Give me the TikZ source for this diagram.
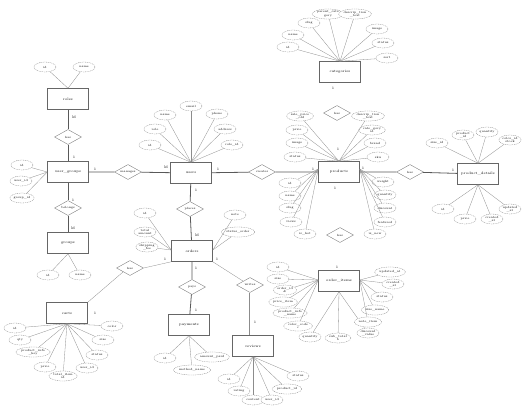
\documentclass[tikz,border=0pt]{standalone}
\usetikzlibrary{shapes.geometric}
\begin{document}
\begin{tikzpicture}[x=1pt,y=-1pt,
  ent/.style={draw=gray!80!black, line width=0.5pt, fill=white, minimum width=41pt, minimum height=21pt, inner sep=1pt, font=\fontsize{3.5}{4}\selectfont},
  attr/.style={ellipse, draw=gray, dash pattern=on 1pt off 0.8pt, line width=0.3pt, fill=white, minimum width=22pt, minimum height=10pt, inner sep=0.3pt, font=\fontsize{3}{3.4}\selectfont, align=center},
  rel/.style={diamond, aspect=1.8, draw=gray, line width=0.4pt, fill=white, minimum width=27pt, minimum height=15pt, inner sep=0pt, font=\fontsize{3}{3.4}\selectfont},
  link/.style={draw=gray!90, line width=0.3pt},
  strong/.style={draw=gray!70!black, line width=0.8pt},
  card/.style={font=\fontsize{3.5}{4}\selectfont, inner sep=0pt}]
\useasboundingbox (0,0) rectangle (526,405);

% ---------- entities ----------
\node[ent] (E1) at (68,99) {roles};
\node[ent] (E2) at (68,172) {user\_groups};
\node[ent] (E3) at (68,243) {groups};
\node[ent] (E4) at (191,173) {users};
\node[ent] (E5) at (340,72) {categories};
\node[ent] (E6) at (339,172) {products};
\node[ent] (E7) at (478,174) {product\_details};
\node[ent] (E8) at (192,251) {orders};
\node[ent] (E9) at (67,313) {carts};
\node[ent] (E10) at (189,325) {payments};
\node[ent] (E11) at (253,346) {reviews};
\node[ent] (E12) at (339,281) {order\_items};

% ---------- relationships ----------
\node[rel] (R1) at (68,137) {has};
\node[rel] (R2) at (68,208) {belongs};
\node[rel] (R3) at (128,172) {manages};
\node[rel] (R4) at (262,172) {creates};
\node[rel] (R5) at (337,113) {has};
\node[rel] (R6) at (410,172) {has};
\node[rel] (R7) at (340,235) {has};
\node[rel] (R8) at (190,209) {places};
\node[rel] (R9) at (192,287) {pays};
\node[rel] (R10) at (130,268) {has};
\node[rel] (R11) at (250,285) {writes};

% ---------- relationship links ----------
\draw[strong] (E1) -- (R1) -- (E2);
\draw[strong] (E2) -- (R2) -- (E3);
\draw[strong] (E2) -- (R3) -- (E4);
\draw[strong] (E4) -- (R4) -- (E6);
\draw[strong] (E6) -- (R6) -- (E7);
\draw[strong] (E4) -- (R8) -- (E8);
\draw[strong] (E8) -- (R9) -- (E10);
\draw[link] (E8.south west) -- (R10.east);
\draw[link] (R10.south west) -- (E9.north east);
\draw[link] (E8.south east) -- (R11.north west);
\draw[link,double,double distance=0.8pt] (R11.south) -- (E11.north -| R11.south);

% ---------- cardinalities ----------
\node[card] (c1) at (74,117) {M};
\node[card] (c2) at (74,157) {1};
\node[card] (c3) at (95,169) {1};
\node[card] (c4) at (73,200) {1};
\node[card] (c5) at (73,228) {M};
\node[card] (c6) at (166,167) {M};
\node[card] (c7) at (218,169) {1};
\node[card] (c8) at (196,190) {1};
\node[card] (c9) at (333,88) {1};
\node[card] (c10) at (338,149) {1};
\node[card] (c11) at (313,169) {1};
\node[card] (c12) at (363,168) {1};
\node[card] (c13) at (335,188) {1};
\node[card] (c14) at (453,170) {1};
\node[card] (c15) at (197,235) {M};
\node[card] (c16) at (165,259) {1};
\node[card] (c17) at (217,259) {1};
\node[card] (c18) at (196,268) {1};
\node[card] (c19) at (196,310) {1};
\node[card] (c20) at (95,313) {1};
\node[card] (c21) at (255,322) {1};
\node[card] (c22) at (337,267) {1};

% ---------- attributes ----------
% E1
\node[attr] (a1a) at (45,67) {id};
\node[attr] (a1b) at (84,67) {name};
\foreach \n in {a1a,a1b} \draw[link] (\n) -- (E1.north);
% E2
\node[attr] (a2a) at (22,165) {id};
\node[attr] (a2b) at (21,181) {user\_id};
\node[attr] (a2c) at (22,198) {group\_id};
\foreach \n in {a2a,a2b,a2c} \draw[link] (\n) -- (E2.west);
% E3
\node[attr] (a3a) at (48,275) {id};
\node[attr] (a3b) at (80,275) {name};
\foreach \n in {a3a,a3b} \draw[link] (\n) -- (E3.south);
% E4
\node[attr] (a4a) at (191,106) {email};
\node[attr] (a4b) at (165,115) {name};
\node[attr] (a4c) at (217,114) {phone};
\node[attr] (a4d) at (155,129) {role};
\node[attr] (a4e) at (225,129) {address};
\node[attr] (a4f) at (150,145) {id};
\node[attr] (a4g) at (232,145) {role\_id};
\foreach \n in {a4a,a4b,a4c,a4d,a4e,a4f,a4g} \draw[link] (\n) -- (E4.north);
% E5
\node[attr] (a5a) at (288,47) {id};
\node[attr] (a5b) at (293,35) {name};
\node[attr] (a5c) at (309,23) {slug};
\node[attr] (a5d) at (328,14) {parent\_cate\\gory};
\node[attr] (a5e) at (355,14) {descrip\_tion\\\_text};
\node[attr] (a5f) at (377,29) {image};
\node[attr] (a5g) at (383,43) {status};
\node[attr] (a5h) at (387,58) {sort};
\foreach \n in {a5a,a5b,a5c,a5d,a5e,a5f,a5g,a5h} \draw[link] (\n) -- (E5.north);
% E6
\node[attr] (a6a) at (300,116) {sale\_price\\\_old};
\node[attr] (a6b) at (297,130) {price};
\node[attr] (a6c) at (297,143) {image};
\node[attr] (a6d) at (295,157) {status};
\node[attr] (a6e) at (368,116) {descrip\_tion\\\_text};
\node[attr] (a6f) at (372,130) {cate\_gory\\id};
\node[attr] (a6g) at (375,143) {brand};
\node[attr] (a6h) at (378,157) {sku};
\foreach \n in {a6a,a6b,a6c,a6d,a6e,a6f,a6g,a6h} \draw[link] (\n) -- (E6.north);
\node[attr] (a6i) at (290,183) {id};
\node[attr] (a6j) at (290,196) {name};
\node[attr] (a6k) at (290,208) {slug};
\node[attr] (a6l) at (291,222) {views};
\node[attr] (a6m) at (305,234) {is\_hot};
\foreach \n in {a6i,a6j,a6k,a6l,a6m} \draw[link] (\n) -- ([yshift=3pt]E6.west);
\node[attr] (a6n) at (383,182) {weight};
\node[attr] (a6o) at (385,195) {quantity};
\node[attr] (a6p) at (385,208) {discount};
\node[attr] (a6q) at (385,222) {featured};
\node[attr] (a6r) at (375,234) {is\_new};
\foreach \n in {a6n,a6o,a6p,a6q,a6r} \draw[link] (\n) -- ([yshift=3pt]E6.east);
% E7
\node[attr] (a7a) at (437,143) {size\_id};
\node[attr] (a7b) at (463,135) {product\\\_id};
\node[attr] (a7c) at (487,132) {quantity};
\node[attr] (a7d) at (510,140) {color\_id\\stock};
\foreach \n in {a7a,a7b,a7c,a7d} \draw[link] (\n) -- (E7.north);
\node[attr] (a7e) at (443,209) {id};
\node[attr] (a7f) at (465,219) {price};
\node[attr] (a7g) at (492,219) {created\\\_at};
\node[attr] (a7h) at (510,209) {updated\\\_at};
\foreach \n in {a7e,a7f,a7g,a7h} \draw[link] (\n) -- (E7.south);
% E8
\node[attr] (a8a) at (145,213) {id};
\node[attr] (a8b) at (145,232) {total\\amount};
\node[attr] (a8c) at (147,247) {shipping\\\_fee};
\foreach \n in {a8a,a8b,a8c} \draw[link] (\n) -- ([yshift=1pt]E8.west);
\node[attr] (a8d) at (235,215) {note};
\node[attr] (a8e) at (238,232) {status\_order};
\foreach \n in {a8d,a8e} \draw[link] (\n) -- ([yshift=1pt]E8.east);
% E9
\node[attr] (a9a) at (15,328) {id};
\node[attr] (a9b) at (20,340) {qty};
\node[attr] (a9c) at (33,352) {product\_info\\\_key};
\node[attr] (a9d) at (45,367) {price};
\node[attr] (a9e) at (63,376) {total\_item\\id};
\node[attr] (a9f) at (87,368) {user\_id};
\node[attr] (a9g) at (97,355) {status};
\node[attr] (a9h) at (103,340) {size};
\node[attr] (a9i) at (112,326) {color};
\foreach \n in {a9a,a9b,a9c,a9d,a9e,a9f,a9g,a9h,a9i} \draw[link] (\n) -- (E9.south);
% E10
\node[attr] (a10a) at (165,358) {id};
\node[attr] (a10b) at (192,370) {method\_name};
\node[attr] (a10c) at (212,357) {amount\_paid};
\foreach \n in {a10a,a10b,a10c} \draw[link] (\n) -- (E10.south);
% E11
\node[attr] (a11a) at (229,379) {id};
\node[attr] (a11b) at (239,391) {rating};
\node[attr] (a11c) at (253,400) {content};
\node[attr] (a11d) at (272,400) {user\_id};
\node[attr] (a11e) at (287,389) {product\_id};
\node[attr] (a11f) at (298,376) {status};
\foreach \n in {a11a,a11b,a11c,a11d,a11e,a11f} \draw[link] (\n) -- (E11.south);
% E12
\node[attr] (a12a) at (278,267) {id};
\node[attr] (a12b) at (278,279) {size};
\node[attr] (a12c) at (285,290) {order\_id\\\&};
\node[attr] (a12d) at (283,302) {price\_item};
\node[attr] (a12e) at (290,313) {product\_info\\\_name};
\node[attr] (a12f) at (298,326) {color\_code\\c};
\foreach \n in {a12a,a12b,a12c,a12d,a12e,a12f} \draw[link] (\n) -- ([yshift=1pt]E12.west);
\node[attr] (a12g) at (310,337) {quantity};
\node[attr] (a12h) at (338,338) {sub\_total\\b};
\node[attr] (a12i) at (368,333) {discount\\\_value};
\foreach \n in {a12g,a12h,a12i} \draw[link] (\n) -- (E12.south);
\node[attr] (a12j) at (368,322) {note\_item};
\node[attr] (a12k) at (375,310) {size\_name};
\node[attr] (a12l) at (382,297) {status};
\node[attr] (a12m) at (393,284) {created\\\_at};
\node[attr] (a12n) at (390,272) {updated\_at};
\foreach \n in {a12j,a12k,a12l,a12m,a12n} \draw[link] (\n) -- ([yshift=1pt]E12.east);
\end{tikzpicture}
\end{document}
